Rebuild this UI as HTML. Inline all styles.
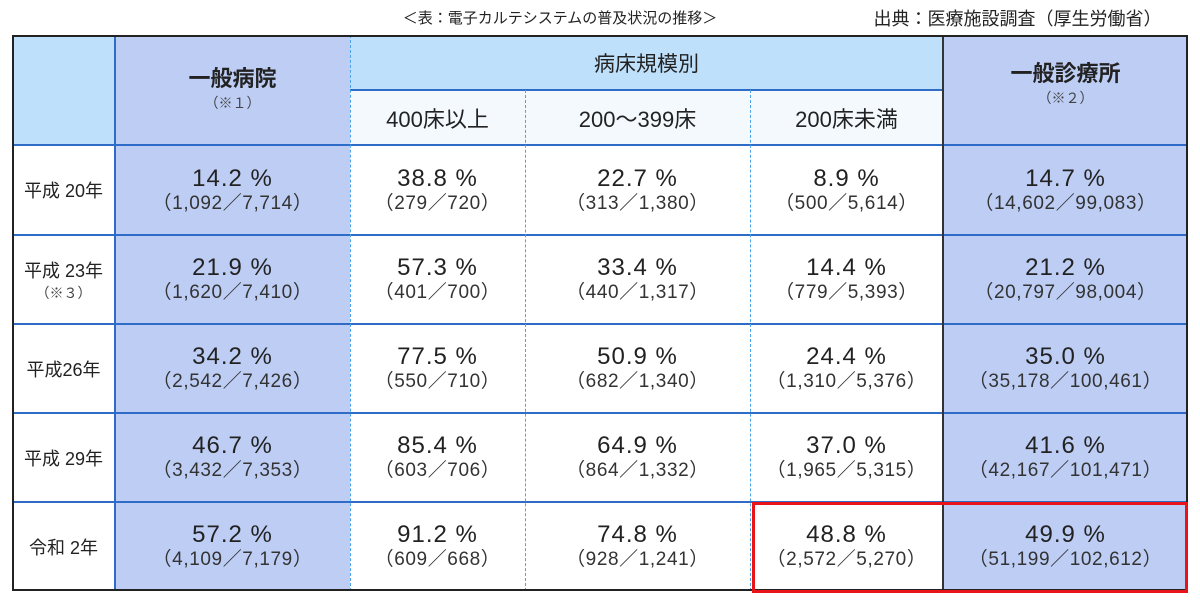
<!DOCTYPE html>
<html><head><meta charset="utf-8">
<style>
body{margin:0;width:1200px;height:602px;background:#fff;position:relative;overflow:hidden;font-family:"Liberation Sans","Noto Sans CJK JP",sans-serif;color:#222}
.a{position:absolute;box-sizing:border-box;display:flex;flex-direction:column;align-items:center;justify-content:center;text-align:center}
.p{font-size:24px;line-height:27px;letter-spacing:1px}
.f{font-size:19px;line-height:24px;color:#333;letter-spacing:0.6px}
.h{font-size:22px;font-weight:bold}
.n{font-size:14px;color:#444}
.ln{position:absolute}
</style></head><body>
<div class="a" style="left:365px;top:5px;width:390px;height:24px;font-size:15px">＜表：電子カルテシステムの普及状況の推移＞</div>
<div class="a" style="left:855px;top:4px;width:325px;height:28px;font-size:18px">出典：医療施設調査（厚生労働省）</div>
<div id="t"></div>
<script>
const years=["平成 20年","平成 23年","平成26年","平成 29年","令和 2年"];
const yearNotes=["","（※３）","","",""];
const pct=[["14.2","38.8","22.7","8.9","14.7"],["21.9","57.3","33.4","14.4","21.2"],["34.2","77.5","50.9","24.4","35.0"],["46.7","85.4","64.9","37.0","41.6"],["57.2","91.2","74.8","48.8","49.9"]];
const frac=[["1,092／7,714","279／720","313／1,380","500／5,614","14,602／99,083"],["1,620／7,410","401／700","440／1,317","779／5,393","20,797／98,004"],["2,542／7,426","550／710","682／1,340","1,310／5,376","35,178／100,461"],["3,432／7,353","603／706","864／1,332","1,965／5,315","42,167／101,471"],["4,109／7,179","609／668","928／1,241","2,572／5,270","51,199／102,612"]];
const colNames=["general-hospital","beds-400-plus","beds-200-399","beds-under-200","general-clinic"];
const X=[12,115,350,525,750,943,1188];
const Y=[35,90,145,235,324,413,502,591];
const t=document.getElementById('t');
function box(x,y,w,h,bg,html,name){const d=document.createElement('div');d.className='a';d.style.cssText=`left:${x}px;top:${y}px;width:${w}px;height:${h}px;background:${bg}`;d.innerHTML=html;


t.appendChild(d);return d;}
const LB='#bfe0fb',PV='#bdcdf4',SB='#f4f9fe';
box(X[0],Y[0],X[1]-X[0],110,LB,'','header-corner');
box(X[1],Y[0],X[2]-X[1],110,PV,'<div class="h">一般病院</div><div class="n">（※１）</div>','header-general-hospital').style.paddingBottom='6px';
box(X[2],Y[0],X[5]-X[2],55,LB,'<div style="font-size:21px">病床規模別</div>','header-bed-size');
["400床以上","200～399床","200床未満"].forEach((s,i)=>box(X[2+i],Y[1],X[3+i]-X[2+i],55,SB,'<div style="font-size:22px">'+s+'</div>','subheader-'+colNames[i+1]));
box(X[5],Y[0],X[6]-X[5],110,PV,'<div class="h">一般診療所</div><div class="n">（※２）</div>','header-general-clinic').style.paddingBottom='16px';
years.forEach((yr,r)=>{
 const y=Y[2+r],h=Y[3+r]-y;
 box(X[0],y,X[1]-X[0],h,'#fff','<div style="font-size:18px">'+yr+'</div>'+(yearNotes[r]?'<div class="n">'+yearNotes[r]+'</div>':''),'row-label-'+r);
 for(let c=0;c<5;c++){
  box(X[1+c],y,X[2+c]-X[1+c],h,(c==0||c==4)?PV:'#fff','<div class="p">'+pct[r][c]+' %</div><div class="f">（'+frac[r][c]+'）</div>','cell-'+colNames[c]+'-'+r);
 }
});
function line(css,name){const d=document.createElement('div');d.className='ln';d.style.cssText=css;


t.appendChild(d);}
for(let i=2;i<7;i++)line(`left:${X[0]}px;top:${Y[i]-1}px;width:${X[6]-X[0]}px;height:2px;background:#2e6cc8`,'row-line');
line(`left:${X[2]}px;top:${Y[1]-1}px;width:${X[5]-X[2]}px;height:2px;background:#2e6cc8`,'subheader-line');
line(`left:${X[1]-1}px;top:${Y[0]}px;width:2px;height:${Y[7]-Y[0]}px;background:#2e6cc8`,'col-line');
[2,3,4].forEach(i=>line(`left:${X[i]}px;top:${i==2?Y[0]:Y[1]}px;width:0;height:${Y[7]-(i==2?Y[0]:Y[1])}px;border-left:1.5px dashed #4aa3e8`,'dashed-col-line'));
line(`left:${X[5]-1}px;top:${Y[0]}px;width:2px;height:${Y[7]-Y[0]}px;background:#333`,'col-line-clinic');
line(`left:${X[0]}px;top:${Y[0]}px;width:${X[6]-X[0]}px;height:${Y[7]-Y[0]}px;border:2px solid #222;box-sizing:border-box`,'table-border');
line(`left:752px;top:502px;width:436px;height:91px;border:3px solid #e8141a;box-sizing:border-box`,'highlight-box');
</script>
</body></html>
